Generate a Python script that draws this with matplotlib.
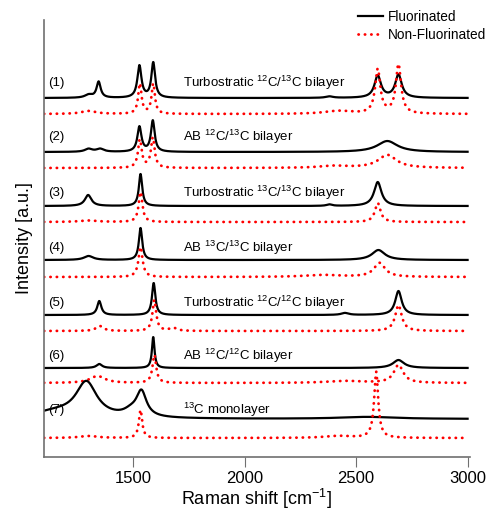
import numpy as np
import matplotlib
matplotlib.use('Agg')
import matplotlib.pyplot as plt

plt.rcParams['font.family'] = ['Liberation Sans', 'DejaVu Sans']
plt.rcParams['mathtext.fontset'] = 'custom'
plt.rcParams['mathtext.rm'] = 'Liberation Sans'
plt.rcParams['mathtext.it'] = 'Liberation Sans:italic'

# peak tables: (centre cm-1, height a.u., fwhm cm-1)
fluor_peaks = [
    [(1300, 3, 40), (1345, 16, 22), (1528, 32, 22), (1590, 35, 20),
     (2380, 1.5, 40), (2597, 22, 35), (2690, 23, 35)],
    [(1300, 3, 40), (1352, 3, 40), (1528, 25, 22), (1588, 31, 20),
     (2640, 11, 110)],
    [(1298, 11, 35), (1533, 32, 18), (2380, 1.5, 30), (2597, 24, 40)],
    [(1300, 4, 50), (1533, 32, 18), (2600, 10, 70)],
    [(1348, 14, 22), (1592, 32, 18), (2450, 2, 40), (2690, 24, 35)],
    [(1348, 4, 30), (1590, 31, 14), (2690, 8, 60)],
    [(1150, 6, 250), (1290, 35, 115), (1490, 5, 80), (1537, 25, 55),
     (2550, 2, 300)],
]
nonfluor_peaks = [
    [(1300, 3, 80), (1530, 30, 18), (1590, 30, 18), (2420, 3, 150),
     (2597, 44, 28), (2690, 49, 28)],
    [(1530, 28, 20), (1588, 30, 20), (2400, 2, 150), (2640, 13, 100)],
    [(1300, 1.5, 100), (1533, 30, 20), (2597, 19, 30)],
    [(1533, 30, 22), (2350, 2, 200), (2605, 14, 60)],
    [(1350, 5, 40), (1595, 31, 20), (1680, 3, 40), (2690, 26, 35)],
    [(1340, 7, 80), (1595, 28, 20), (2450, 2, 200), (2690, 18, 50)],
    [(1300, 2, 100), (1533, 28, 18), (2420, 2, 150), (2590, 66, 22)],
]
fluor_offsets = [359, 305, 251, 197, 142, 89, 38]
nonfluor_offsets = [343, 289, 235, 180, 126, 74, 19]
numbers = ['(1)', '(2)', '(3)', '(4)', '(5)', '(6)', '(7)']
names = [r'Turbostratic $^{12}$C/$^{13}$C bilayer',
         r'AB $^{12}$C/$^{13}$C bilayer',
         r'Turbostratic $^{13}$C/$^{13}$C bilayer',
         r'AB $^{13}$C/$^{13}$C bilayer',
         r'Turbostratic $^{12}$C/$^{12}$C bilayer',
         r'AB $^{12}$C/$^{12}$C bilayer',
         r'$^{13}$C monolayer']
label_y = [374, 320, 264, 209, 154, 101, 47]

x = np.linspace(1100, 3000, 2000)


def spectrum(peaks):
    y = np.zeros_like(x)
    for c, h, w in peaks:
        y += h / (1 + ((x - c) / (w / 2)) ** 2)
    return y


fig = plt.figure(figsize=(4.9, 5.12), dpi=100)
ax = fig.add_axes([0.0898, 0.1074, 0.869, 0.8535])

for i in range(len(numbers)):
    ax.plot(x, spectrum(fluor_peaks[i]) + fluor_offsets[i], color='black',
            lw=1.6, label='Fluorinated' if i == 0 else None)
    ax.plot(x, spectrum(nonfluor_peaks[i]) + nonfluor_offsets[i], color='red',
            lw=2.0, linestyle=(0, (0.1, 2.2)), dash_capstyle='round',
            label='Non-Fluorinated' if i == 0 else None)
    ax.text(1118, label_y[i], numbers[i], fontsize=9.5, va='center', ha='left')
    ax.text(1723, label_y[i], names[i], fontsize=9.5, va='center', ha='left')

ax.set_xlim(1100, 3010)
ax.set_ylim(0, 437)
ax.set_yticks([])
ax.set_xticks([1500, 2000, 2500, 3000])
ax.tick_params(axis='x', direction='out', length=7, labelsize=12,
               color='#707070', pad=3)
for s in ['top', 'right']:
    ax.spines[s].set_visible(False)
for s in ['left', 'bottom']:
    ax.spines[s].set_color('#707070')
    ax.spines[s].set_linewidth(1.2)

ax.set_xlabel(r'Raman shift [cm$^{-1}$]', fontsize=13, labelpad=1)
ax.set_ylabel('Intensity [a.u.]', fontsize=13, labelpad=8)

fig.legend(loc='upper right', bbox_to_anchor=(1.005, 0.992), frameon=False,
           fontsize=9.8, handlelength=1.8, handletextpad=0.4,
           borderaxespad=0.05, labelspacing=0.25)

fig.savefig('out.png', dpi=100)
